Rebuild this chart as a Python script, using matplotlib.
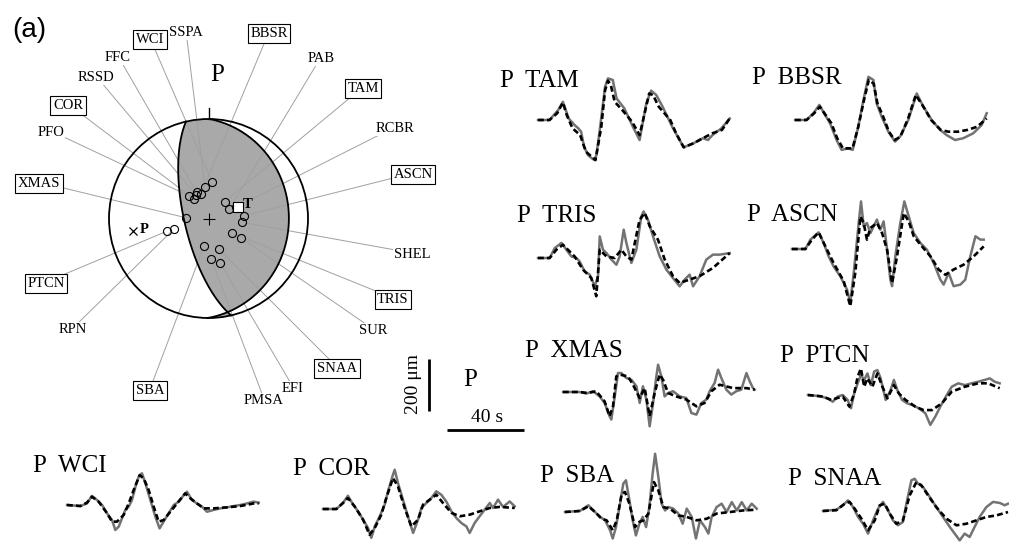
import numpy as np
import matplotlib
matplotlib.use("Agg")
import matplotlib.pyplot as plt
from matplotlib.patches import Circle

W, H, DPI = 1009, 544, 100
SERIF = ["Liberation Serif", "DejaVu Serif"]
SANS = ["Liberation Sans", "DejaVu Sans"]

# ---------------------------------------------------------------------------
# Focal mechanism: principal axes (trend, plunge) in degrees
p_axis = (260.5, 24.5)
t_axis = (69.4, 63.9)

# Stations on the lower focal hemisphere: azimuth and take-off angle (deg)
station_names = ["BBSR", "SSPA", "WCI", "FFC", "RSSD", "COR", "PFO", "XMAS",
                 "PTCN", "RPN", "TAM", "PAB", "RCBR", "ASCN", "SHEL", "TRIS",
                 "SUR", "SBA", "SNAA", "PMSA", "EFI"]
station_azimuth = [343.0, 353.7, 6.0, 335.8, 331.6, 323.4, 319.5, 272.0,
                   253.1, 253.4, 44.0, 66.1, 67.7, 85.5, 96.5, 121.5,
                   120.8, 189.3, 160.7, 176.1, 165.4]
station_takeoff = [21.0, 26.2, 30.0, 23.5, 22.3, 19.8, 24.2, 18.6,
                   35.6, 29.4, 19.1, 18.6, 24.8, 29.3, 27.5, 22.3,
                   30.9, 22.8, 26.8, 33.8, 37.9]
modeled_stations = ["WCI", "BBSR", "TAM", "COR", "XMAS", "ASCN", "PTCN",
                    "TRIS", "SNAA", "SBA"]

# ---------------------------------------------------------------------------
# P-wave displacement records (time in s, amplitude in micrometres)
tam_obs_t = [0, 6, 10.5, 13, 16, 19, 21, 22.5, 24, 26, 28, 29.5, 30.5, 32, 35, 36.5, 39, 41, 45,
             49.5, 53, 56.5, 59, 61.7, 65, 70, 76, 81, 86, 88.7, 91, 95.7, 100]
tam_obs_um = [0, 0, 38, 70, 6, -19, -32, -45, -102, -134, -147, -154, -134, -51, 128, 160, 154, 83,
              45, -26, -77, 64, 113, 96, 51, -26, -105, -90, -70, -77, -58, -32, 6]
tam_syn_t = [0, 6, 10, 13, 15, 18, 22, 25, 28, 30, 33, 35, 36.5, 38, 40, 44, 49, 53, 56, 58, 60,
             63, 69, 72, 76, 81, 86, 91, 96, 100]
tam_syn_um = [0, 0, 26, 67, 19, -32, -58, -122, -141, -154, -26, 115, 151, 134, 70, 38, -6, -58,
              38, 102, 96, 51, 0, -51, -105, -90, -70, -51, -38, 6]

bbsr_obs_t = [0, 6, 9.6, 12.7, 15.7, 18.3, 21.7, 24.3, 27.8, 30.1, 33, 35.7, 38.3, 40.9, 42.6,
              45.2, 48.7, 52.2, 54.8, 59.1, 63.5, 67, 71.3, 75.7, 79.1, 83.5, 87.8, 93, 97.4, 100]
bbsr_obs_um = [0, 0, 26, 58, 19, -13, -77, -115, -109, -115, -26, 77, 166, 154, 64, 13, -45, -83,
               -64, 0, 102, 51, 0, -38, -58, -77, -70, -51, -19, 26]
bbsr_syn_t = [0, 6, 10, 13, 16, 19, 22, 25, 28, 30, 33, 36, 38.5, 41, 43, 46, 49, 52, 55, 59, 63,
              67, 71, 76, 80, 85, 90, 95, 100]
bbsr_syn_um = [0, 0, 26, 51, 19, -13, -70, -109, -109, -109, -26, 77, 154, 140, 64, 13, -45, -77,
               -64, 6, 96, 51, 0, -38, -45, -45, -38, -26, 6]

tris_obs_t = [0, 6.1, 8.7, 12.2, 14.8, 17.4, 20, 21.7, 24.3, 27, 29.6, 31.3, 32.2, 33.9, 35.7,
              38.3, 40.9, 42.6, 44.7, 46.1, 48.7, 51.3, 53.9, 55.1, 57.4, 60, 63.5, 67, 70.4, 73.9,
              76.5, 79.1, 80.9, 84.3, 87.8, 91.3, 94.8, 100]
tris_obs_um = [0, 0, 38, 58, 32, 6, 0, -13, -51, -64, -109, -70, 83, 32, 19, -6, -26, 6, 109, 58,
               -19, 32, 160, 179, 147, 83, 6, -45, -77, -109, -83, -64, -109, -70, -6, 13, 13, 19]
tris_syn_t = [0, 6.1, 9.6, 13, 19.1, 23.5, 27.8, 30.4, 32.2, 35.7, 40, 43.5, 46.1, 48.7, 53,
              55.7, 58.3, 62.6, 66.1, 70.4, 73.9, 79.1, 84.3, 91.3, 100]
tris_syn_um = [0, 0, 32, 51, 6, -45, -77, -147, 32, 6, 0, 32, 6, -6, 147, 173, 122, 70, -6, -70,
               -96, -83, -70, -38, 19]

ascn_obs_t = [0, 7, 9.6, 13.9, 16.5, 19.1, 21.7, 25.2, 28.7, 30.4, 32.2, 34.8, 36, 37.4, 39.1,
              40.9, 42.6, 44.3, 46.1, 47.8, 49.6, 51.3, 52.2, 53.9, 56.5, 58.6, 60.9, 63.5, 67,
              70.4, 73.9, 77.4, 79.1, 81.7, 84.3, 87.8, 90.4, 93, 95.7, 98.3, 100]
ascn_obs_um = [0, 0, 36, 64, 23, -28, -67, -105, -156, -207, -92, 100, 183, 87, 100, 61, 87, 113,
               74, 106, -3, -118, -143, -28, 100, 183, 125, 61, 23, -3, -54, -118, -137, -92,
               -143, -137, -118, -28, 49, 36, 36]
ascn_syn_t = [0, 7, 10.4, 13.9, 17.4, 21.7, 27, 30.4, 33, 35.7, 37.4, 39.1, 40.9, 44.3, 47, 49.6,
              52.2, 54.8, 58.3, 60.9, 63.5, 67.8, 72.2, 76.5, 80, 84.3, 89.6, 94.8, 100]
ascn_syn_um = [0, 0, 36, 64, 10, -54, -124, -220, -92, 125, 100, 36, 81, 100, 61, -3, -131, -28,
               138, 106, 49, 10, -28, -79, -99, -79, -60, -28, 10]

xmas_obs_t = [0, 8.7, 12.2, 15.7, 19.1, 21.7, 24.3, 25.2, 27, 28.7, 30.4, 33, 35.7, 38.3, 40,
              41.7, 43.5, 45.2, 47, 48.7, 49.6, 51.3, 53, 54.8, 57.4, 60.9, 64.3, 67, 69.6, 72.2,
              74.8, 76.5, 79.1, 80.9, 82.6, 85.2, 87.8, 90.4, 93, 95.7, 97.4, 99.1, 100]
xmas_obs_um = [0, 0, -6, 3, -17, -42, -93, -106, -17, 73, 73, 54, 47, 22, -42, 22, -29, -132, -42,
               60, 105, 60, -17, -4, 3, -17, -23, -81, -87, -42, -29, 3, 35, 86, 54, 9, -10, 3, 9,
               73, 41, 15, 9]
xmas_syn_t = [0, 8.7, 13, 17.4, 21.7, 24.3, 26.1, 27.8, 29.6, 33.9, 36.5, 40, 42.6, 45.2, 47.8,
              50.4, 52.2, 54.8, 59.1, 64.3, 69.6, 73.9, 77.4, 81.7, 88.7, 95.7, 100]
xmas_syn_um = [0, 0, -4, 3, -36, -93, -55, 60, 67, 60, 28, -23, 15, -93, -4, 67, 47, -4, -17, -29,
               -55, -42, 3, 28, 15, 15, 9]

ptcn_obs_t = [0, 6, 10.3, 12.9, 15.5, 18.1, 20.7, 22.4, 24.1, 25.9, 27.6, 29.3, 31, 32.8, 34.5,
              36.2, 37.9, 40.5, 43.1, 44.8, 46.6, 49.1, 51.7, 54.3, 57.8, 61.2, 63.8, 66.4, 69,
              72.4, 75, 78.4, 81.9, 85.3, 88.8, 92.2, 94.8, 97.4, 100]
ptcn_obs_um = [0, -4, -13, -26, -6, 0, -19, -51, 6, 45, 77, 58, 83, 38, 90, 96, 64, -19, 19, 58,
               19, -19, -32, -38, -51, -70, -115, -83, -45, 0, 32, 45, 38, 45, 51, 58, 64, 51, 45]
ptcn_syn_t = [0, 7.8, 12.1, 14.7, 18.1, 21.6, 24.1, 25.9, 27.6, 29.3, 31, 33.6, 36.2, 38.8, 41.4,
              44.8, 47.4, 50.9, 56, 60.3, 64.7, 69.8, 75, 81.9, 88.8, 94, 100]
ptcn_syn_um = [0, -6, -19, -13, -6, -45, 6, 70, 102, 32, 64, 32, 83, 32, -13, 38, 6, -19, -45,
               -58, -58, -32, 13, 32, 45, 45, 26]

wci_obs_t = [0, 7, 10.4, 13, 15.7, 18.3, 20.9, 23.5, 25.2, 27, 28.7, 30.4, 32.2, 33.9, 35.7,
             37.4, 39.1, 40.9, 43.5, 46.1, 48.3, 50.4, 53, 55.7, 58.3, 60.9, 62.6, 65.2, 67.8,
             70.4, 73, 76.5, 80, 83.5, 87, 90.4, 93.9, 97.4, 100]
wci_obs_um = [0, -4, 6, 35, 19, 0, -32, -58, -96, -83, -51, -19, -6, 19, 70, 109, 122, 83, 19,
              -45, -90, -64, -32, 0, 13, 38, 51, 19, 6, -6, -26, -19, -13, -9, -4, 0, 6, 13, 9]
wci_syn_t = [0, 7, 10.4, 13, 16.5, 20.9, 23.5, 26.1, 29.6, 32.2, 34.8, 37.9, 40, 42.6, 45.2,
             47.8, 50.4, 53.9, 57.4, 61.7, 64.3, 67.8, 71.3, 76.5, 83.5, 90.4, 97.4, 100]
wci_syn_um = [0, -4, 9, 32, 13, -32, -64, -64, -38, 6, 58, 115, 102, 58, -6, -64, -58, -26, 6,
              45, 26, 6, -13, -13, -9, -4, 6, 6]

cor_obs_t = [0, 7, 10.4, 13, 15.7, 18.3, 20.9, 23.5, 25.2, 27, 29.6, 32.2, 33.9, 36.5, 37.4,
             39.1, 41.7, 44.3, 47, 49.6, 51.3, 53.9, 56.5, 59.1, 61.7, 64.3, 67, 69.6, 72.2,
             74.8, 76.5, 79.1, 81.7, 84.3, 87, 88.7, 91.3, 93.9, 97.4, 100]
cor_obs_um = [0, 0, 23, 51, 17, -9, -41, -73, -111, -67, -28, 17, 68, 132, 151, 100, 36, -28,
              -92, -41, 4, 23, 42, 68, 55, 29, -9, -35, -54, -67, -92, -54, -28, -3, 23, 4, 36,
              8, 29, 10]
cor_syn_t = [0, 7, 10.4, 13, 16.5, 20.9, 24.3, 27, 30.4, 33, 36.5, 39.1, 42.6, 46.1, 49.6, 52.2,
             55.7, 59.1, 62.6, 67, 71.3, 76.5, 81.7, 87, 92.2, 100]
cor_syn_um = [0, 0, 23, 42, 10, -41, -99, -73, -22, 42, 119, 87, 4, -67, -41, 17, 36, 55, 23,
              -15, -28, -22, -9, 4, 8, 4]

sba_obs_t = [0, 7.8, 12.2, 14.8, 18.3, 20.9, 23.5, 24.9, 26.6, 28.7, 30.4, 31.8, 33.6, 35.3, 37,
             38.8, 40.5, 42.3, 44, 45.7, 47, 48.7, 50.4, 52.2, 53.9, 56.5, 59.1, 61.4, 63.5,
             66.1, 68.3, 70.4, 73, 74.8, 76.5, 79.1, 81.7, 84.3, 87, 89.6, 92.2, 94.8, 97.4, 100]
sba_obs_um = [0, 4, 26, 6, -19, -32, -70, -102, -58, 32, 109, 122, 45, -32, -90, -45, -19, -58,
              19, 147, 224, 134, 32, 6, 19, 13, -6, -45, 13, -19, -102, -32, -58, -83, -19, 19,
              32, 0, 38, 6, 38, 6, 32, 13]
sba_syn_t = [0, 7.8, 12.2, 15.7, 19.1, 21.7, 24.9, 27, 29.6, 31.3, 33.6, 36.5, 38.8, 40.9, 43.5,
             46.4, 48.7, 51.3, 54.8, 59.1, 63.5, 68.7, 73.9, 79.1, 86.1, 93, 100]
sba_syn_um = [0, 4, 22, 0, -26, -32, -70, -32, 70, 77, 32, -58, -38, -32, -6, 115, 83, 19, 13,
              -13, -19, -32, -26, -6, 0, 6, 9]

snaa_obs_t = [0, 7, 10.4, 13, 15.7, 18.3, 20.9, 23.5, 26.1, 28.7, 31.3, 33.9, 36.5, 39.1, 41.7,
              43.5, 46.1, 47.8, 49.6, 52.2, 55.7, 59.1, 62.6, 66.1, 68.7, 71.3, 73.9, 76.5, 79.1,
              81.7, 85.2, 88.7, 92.2, 94.8, 96.5]
snaa_obs_um = [0, 5, 22, 41, 15, -23, -49, -87, -36, 9, 35, 3, -36, -55, -42, 28, 118, 124, 105,
               92, 54, 15, -23, -61, -87, -113, -87, -100, -61, -23, 15, 35, 31, 22, 28]
snaa_syn_t = [0, 7, 11.3, 13.9, 16.5, 20, 23.5, 27, 29.6, 32.2, 34.8, 38.3, 41.7, 45.2, 48.7,
              51.3, 54.8, 59.1, 64.3, 69.6, 74.8, 80, 85.2, 90.4, 96.5]
snaa_syn_um = [0, 3, 28, 35, 9, -29, -74, -36, 22, 28, -10, -49, -36, 60, 111, 99, 60, 15, -29,
               -55, -49, -36, -23, -17, -4]

# Scale bars
scale_amp_um = 200
scale_time_s = 40

# ---------------------------------------------------------------------------
# Layout (pixels from the top-left corner of the figure)
CX, CY, R = 208.5, 218.5, 99.5          # focal sphere centre and radius
PX_PER_S = 1.917
PX_PER_UM = 0.26

label_pos = {
    "SSPA": (186, 31), "WCI": (150, 38), "BBSR": (269, 32), "FFC": (118, 56),
    "PAB": (321, 57), "RSSD": (96, 76), "TAM": (363, 87), "COR": (68, 104),
    "RCBR": (395, 127), "PFO": (51, 131), "ASCN": (413, 173), "XMAS": (39, 182),
    "SHEL": (412, 253), "PTCN": (46, 282), "TRIS": (393, 298), "RPN": (73, 328),
    "SUR": (373, 329), "SNAA": (337, 367), "SBA": (150, 389), "EFI": (293, 387),
    "PMSA": (264, 399),
}

# name, observed, synthetic, trace origin (px), label baseline-left (px)
panels = [
    ("TAM", tam_obs_t, tam_obs_um, tam_syn_t, tam_syn_um, (538, 120), (500, 87)),
    ("BBSR", bbsr_obs_t, bbsr_obs_um, bbsr_syn_t, bbsr_syn_um, (795, 120), (752, 84)),
    ("TRIS", tris_obs_t, tris_obs_um, tris_syn_t, tris_syn_um, (538, 258), (517, 222)),
    ("ASCN", ascn_obs_t, ascn_obs_um, ascn_syn_t, ascn_syn_um, (792, 249), (747, 221)),
    ("XMAS", xmas_obs_t, xmas_obs_um, xmas_syn_t, xmas_syn_um, (563, 392), (525, 357)),
    ("PTCN", ptcn_obs_t, ptcn_obs_um, ptcn_syn_t, ptcn_syn_um, (808, 395), (780, 362)),
    ("WCI", wci_obs_t, wci_obs_um, wci_syn_t, wci_syn_um, (67, 505), (33, 472)),
    ("COR", cor_obs_t, cor_obs_um, cor_syn_t, cor_syn_um, (323, 509), (293, 475)),
    ("SBA", sba_obs_t, sba_obs_um, sba_syn_t, sba_syn_um, (565, 512), (540, 482)),
    ("SNAA", snaa_obs_t, snaa_obs_um, snaa_syn_t, snaa_syn_um, (823, 511), (788, 485)),
]

SHADE = "#a9a9a9"
LEADER = "#a0a0a0"
OBS_COLOR = "#737373"

fig = plt.figure(figsize=(W / DPI, H / DPI), dpi=DPI)
fig.patch.set_facecolor("white")


def fig_xy(px, py):
    return px / W, 1 - py / H


# ---------------------------------------------------------------------------
# Focal sphere (lower hemisphere, equal-area projection)
ax = fig.add_axes([0, 0, 1, 1])
ax.set_xlim(-CX / R, (W - CX) / R)
ax.set_ylim((CY - H) / R, CY / R)
ax.axis("off")


def ball_xy(px, py):
    return (px - CX) / R, (CY - py) / R


def axis_vector(trend, plunge):
    tr, pl = np.radians(trend), np.radians(plunge)
    return np.array([np.cos(pl) * np.cos(tr), np.cos(pl) * np.sin(tr), np.sin(pl)])


def project(trend, incidence):
    r = np.sqrt(2) * np.sin(np.radians(incidence) / 2)
    tr = np.radians(trend)
    return r * np.sin(tr), r * np.cos(tr)


T = axis_vector(*t_axis)
P = axis_vector(*p_axis)

g = np.linspace(-1.0, 1.0, 801)
X, Y = np.meshgrid(g, g)
rr = np.hypot(X, Y)
inc = 2 * np.arcsin(np.clip(rr / np.sqrt(2), 0, 1))
azi = np.arctan2(X, Y)
vn, ve, vd = np.sin(inc) * np.cos(azi), np.sin(inc) * np.sin(azi), np.cos(inc)
amp = (vn * T[0] + ve * T[1] + vd * T[2]) ** 2 - (vn * P[0] + ve * P[1] + vd * P[2]) ** 2
amp = np.ma.masked_where(rr > 1.0, amp)
cf = ax.contourf(X, Y, amp, levels=[0, 2], colors=[SHADE], zorder=1)
clip = Circle((0, 0), 1.0, transform=ax.transData, fc="none", ec="none")
ax.add_patch(clip)
cf.set_clip_path(clip)

# nodal planes
for n in (T + P, T - P):
    n = n / np.linalg.norm(n)
    s = np.cross(n, [0, 0, 1.0])
    s /= np.linalg.norm(s)
    d = np.cross(n, s)
    if d[2] < 0:
        d = -d
    phi = np.linspace(0, np.pi, 400)
    v = np.outer(np.cos(phi), s) + np.outer(np.sin(phi), d)
    tr = np.degrees(np.arctan2(v[:, 1], v[:, 0]))
    ic = np.degrees(np.arccos(np.clip(v[:, 2], -1, 1)))
    x, y = project(tr, ic)
    ax.plot(x, y, color="black", lw=1.3, zorder=4)

ax.add_patch(Circle((0, 0), 1.0, fc="none", ec="black", lw=1.3, zorder=4))
ax.plot([0, 0], [1.0, 1.11], color="black", lw=1.0, zorder=4)
ax.plot(0, 0, marker="+", ms=8, mew=0.8, color="black", zorder=5)

# stations, leader lines and labels
for name, az, to in zip(station_names, station_azimuth, station_takeoff):
    sx, sy = project(az, to)
    lx, ly = ball_xy(*label_pos[name])
    dx, dy = lx - sx, ly - sy
    dl = np.hypot(dx, dy)
    ax.plot([sx + 0.036 * dx / dl, lx], [sy + 0.036 * dy / dl, ly], color=LEADER,
            lw=0.7, zorder=3)
    ax.plot(sx, sy, marker="o", ms=5.8, mfc="none", mec="black", mew=0.8, zorder=6)
    if name in modeled_stations:
        box = dict(boxstyle="square,pad=0.18", fc="white", ec="black", lw=0.8)
    else:
        box = dict(boxstyle="square,pad=0.05", fc="white", ec="none")
    ax.text(lx, ly - 5 / R, name, family=SERIF, fontsize=10.5, ha="center",
            va="baseline", bbox=box, zorder=7)

# P and T axes
px_, py_ = project(p_axis[0], 90 - p_axis[1])
tx_, ty_ = project(t_axis[0], 90 - t_axis[1])
ax.plot(px_, py_, marker="x", ms=6, mew=0.9, color="black", zorder=6)
ax.text(px_ + 0.06, py_ + 0.02, "P", family=SERIF, fontsize=10.5, fontweight="bold",
        ha="left", va="center", zorder=7)
ax.plot(tx_, ty_, marker="s", ms=6.5, mfc="white", mec="black", mew=0.8, zorder=6)
ax.text(tx_ + 0.05, ty_ + 0.03, "T", family=SERIF, fontsize=10.5, fontweight="bold",
        ha="left", va="center", zorder=7)

ax.text(*ball_xy(217, 81), "P", family=SERIF, fontsize=18, ha="center", va="baseline")
fig.text(*fig_xy(12, 37), "(a)", family=SANS, fontsize=20, ha="left", va="baseline")


# ---------------------------------------------------------------------------
# Waveform panels
def trace_axes(x0, y0, w_px=215, h_px=170):
    left, top = fig_xy(x0, y0 - h_px / 2)
    a = fig.add_axes([left, top - h_px / H, w_px / W, h_px / H])
    a.set_xlim(0, w_px / PX_PER_S)
    a.set_ylim(-h_px / 2 / PX_PER_UM, h_px / 2 / PX_PER_UM)
    a.axis("off")
    a.patch.set_alpha(0)
    return a


for name, ot, oa, st, sa, origin, lab in panels:
    a = trace_axes(*origin)
    a.plot(ot, oa, color=OBS_COLOR, lw=1.8, clip_on=False)
    a.plot(st, sa, color="black", lw=1.9, linestyle=(0, (2.2, 1.2)), clip_on=False)
    fig.text(*fig_xy(*lab), "P  " + name, family=SERIF, fontsize=18, ha="left",
             va="baseline")

# scale bars (origin at the left end of the time bar)
sc = trace_axes(447, 430)
sc.plot([0, scale_time_s], [0, 0], color="black", lw=2.0, solid_capstyle="butt",
        clip_on=False)
bar_t = -(447 - 429) / PX_PER_S
bar_a0 = (430 - 411) / PX_PER_UM
sc.plot([bar_t, bar_t], [bar_a0, bar_a0 + scale_amp_um], color="black", lw=2.0,
        solid_capstyle="butt", clip_on=False)
fig.text(*fig_xy(487, 422), f"{scale_time_s} s", family=SERIF, fontsize=14,
         ha="center", va="baseline")
fig.text(*fig_xy(413, 384), f"{scale_amp_um} μm", family=SERIF, fontsize=14,
         ha="center", va="center", rotation=90)
fig.text(*fig_xy(470, 386), "P", family=SERIF, fontsize=18, ha="center", va="baseline")

fig.savefig("out.png", dpi=DPI)
